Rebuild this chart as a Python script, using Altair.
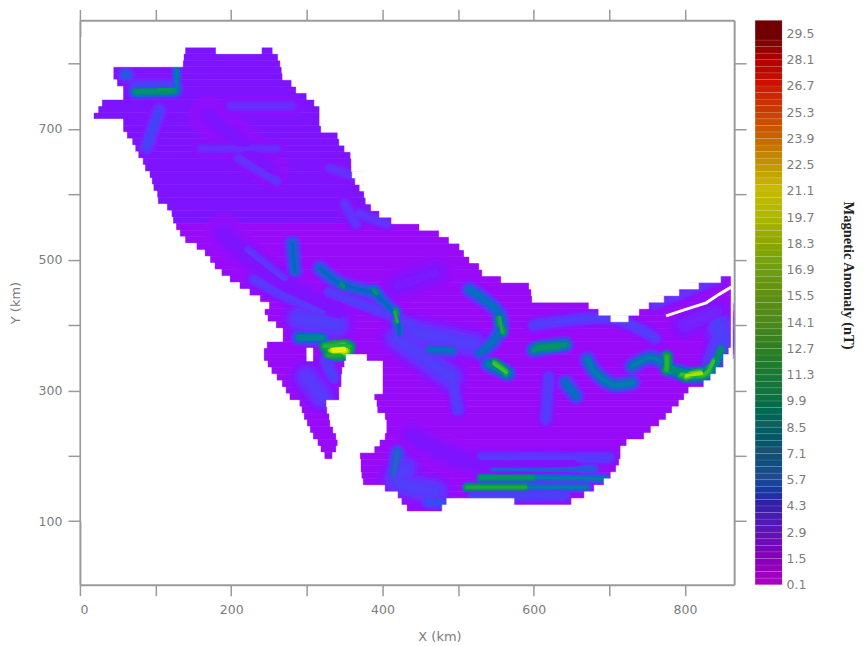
import altair as alt
import pandas as pd

# ---- map footprint: (y km, [(x start, x end), ...]) read row by row
footprint = [
 (820,[(139,180),(240,255)]),(810,[(137,262)]),(800,[(136,265)]),(790,[(44,267)]),(780,[(44,268)]),
 (770,[(49,280)]),(760,[(57,286)]),(750,[(57,300)]),(740,[(29,310)]),(730,[(24,317)]),(720,[(18,317)]),
 (710,[(57,317)]),(700,[(57,319)]),(690,[(62,341)]),(680,[(69,343)]),(670,[(73,350)]),(660,[(77,358)]),
 (650,[(83,359)]),(640,[(86,359)]),(630,[(92,360)]),(620,[(95,364)]),(610,[(97,370)]),(600,[(102,376)]),
 (590,[(103,378)]),(580,[(115,385)]),(570,[(121,396)]),(560,[(123,412)]),(550,[(127,449)]),(540,[(132,475)]),
 (530,[(139,488)]),(520,[(154,502)]),(510,[(165,508)]),(500,[(172,515)]),(490,[(178,528)]),(480,[(187,532)]),
 (470,[(198,557),(847,861)]),(460,[(211,594),(818,861)]),(450,[(224,597),(792,861)]),(440,[(238,598),(772,861)]),
 (430,[(250,673),(752,861)]),(420,[(244,686),(739,861)]),(410,[(248,702),(725,861)]),(400,[(259,861)]),
 (390,[(268,861)]),(380,[(268,861)]),(370,[(247,861)]),(360,[(243,300),(308,858)]),
 (350,[(243,300),(308,352),(379,851)]),(340,[(248,350),(400,851)]),(330,[(253,347),(400,841)]),
 (320,[(260,346),(400,834)]),(310,[(267,346),(400,825)]),(300,[(272,343),(400,805)]),(290,[(277,343),(389,799)]),
 (280,[(290,326),(392,792)]),(270,[(293,327),(393,783)]),(260,[(296,330),(403,775)]),(250,[(300,331),(405,766)]),
 (240,[(304,335),(405,755)]),(230,[(308,339),(403,746)]),(220,[(314,341),(396,723)]),(210,[(318,339),(389,715)]),
 (200,[(323,334),(370,715)]),(190,[(371,713)]),(180,[(371,709)]),(170,[(372,702)]),(160,[(374,693)]),
 (150,[(403,680)]),(140,[(420,667)]),(130,[(425,485),(574,650)]),(120,[(432,479)]),
]
base_level = {"north": 1.5, "south": 0.7}

# ---- white sliver in the eastern arm
gash_x = [775, 801, 828, 845, 861]
gash_y = [414, 424, 434, 447, 458]

# ---- anomaly ridges: (value, [(x km, y km), ...]) grouped by how wide they look
patches = [
 (1.5,[(190,540),(260,470),(340,420)]),(1.5,[(440,230),(520,190),(650,190)]),
 (1.8,[(800,400),(840,420)]),(1.5,[(170,720),(250,640)]),(1.6,[(420,460),(470,480)]),
 (2.8,[(290,410),(340,400)]),(2.8,[(430,180),(420,160),(470,145)]),(2.8,[(440,390),(520,370)]),
 (3.0,[(845,400),(850,375)]),(2.8,[(420,380),(490,320)]),(2.6,[(300,320),(320,290)]),
]
broad = [
 (3.2,[(105,728),(88,672)]),(2.6,[(230,470),(270,445),(320,420)]),(3.2,[(75,765),(125,765)]),
 (2.2,[(200,735),(280,735)]),(2.1,[(160,670),(260,670)]),(2.3,[(210,655),(260,620)]),
 (2.4,[(370,570),(405,555)]),(2.4,[(350,585),(365,555)]),(2.3,[(330,640),(370,625)]),(2.4,[(220,515),(270,470)]),
 (2.8,[(330,450),(400,420),(440,400)]),(2.8,[(600,400),(700,410),(760,380)]),
 (2.8,[(620,320),(616,256)]),(2.8,[(490,330),(500,270)]),
 (3.0,[(325,345),(335,320)]),(2.7,[(530,197),(700,197)]),(3.0,[(520,138),(640,140)]),
 (2.8,[(830,345),(850,400)]),(2.2,[(760,430),(845,470)]),
]
mid = [
 (3.6,[(460,130),(480,128)]),(5.0,[(420,205),(415,170)]),(5.2,[(281,525),(284,482)]),
 (5.2,[(317,487),(347,462),(389,450)]),(5.2,[(389,450),(418,413),(422,385)]),(4.5,[(60,783),(62,782)]),
 (5.5,[(515,454),(550,424),(557,398),(545,373),(528,358)]),(5.5,[(462,362),(492,362)]),
 (5.5,[(642,312),(656,291)]),(6.0,[(671,347),(682,327),(704,309),(730,312)]),(6.0,[(730,337),(752,350),(770,343)]),
 (6.5,[(290,381),(320,381)]),(8.0,[(75,758),(125,760)]),(7.0,[(600,362),(620,367),(642,370)]),
 (7.5,[(781,332),(815,323),(836,337),(848,365)]),(6.5,[(540,340),(566,326)]),
]
thin = [
 (4.5,[(545,180),(680,180)]),(6.0,[(600,167),(695,165)]),(6.0,[(590,152),(670,152)]),(6.0,[(128,790),(128,762)]),
 (9.0,[(530,167),(600,167)]),(11.0,[(512,152),(590,152)]),
]
core = [
 (9.5,[(105,760),(118,760)]),(8.0,[(345,463),(349,460)]),(8.0,[(388,452),(392,448)]),
 (11.0,[(328,354),(344,354)]),(12.0,[(324,368),(356,367)]),
 (11.0,[(416,420),(420,405)]),(11.0,[(555,412),(558,390)]),(9.0,[(605,365),(632,368)]),
 (12.0,[(776,352),(776,332)]),(13.0,[(795,325),(825,325),(838,345)]),(14.0,[(548,340),(564,327)]),
 (17.0,[(802,323),(822,326)]),
]
hot = [(19.5,[(336,362),(349,363)])]

# ---- colour bar
bar_labels = [0.1,1.5,2.9,4.3,5.7,7.1,8.5,9.9,11.3,12.7,14.1,15.5,16.9,18.3,19.7,21.1,22.5,23.9,25.3,26.7,28.1,29.5]
bar_colors = ["#a800c0","#8000b8","#5a14b8","#3020a8","#204a90","#1a5070","#10605a","#107040","#1a7a30","#308020",
              "#50881a","#609010","#70a010","#90a800","#b0b800","#c8b800","#c09000","#c86000","#c83800","#cc1000","#aa0000","#600000"]
map_stops = [0.1, 1.5, 3.0, 5.0, 7.0, 10.0, 14.0, 17.0, 20.0, 30.0]
map_colors = ["#a805f5", "#7e14ff", "#4a40fa", "#2a60c8", "#108a78", "#12a040", "#40c820", "#b0e000", "#f4f400", "#800000"]
x_ticks = [0, 100, 200, 300, 400, 500, 600, 700, 800]
y_ticks = [100, 200, 300, 400, 500, 600, 700, 800]

GREY, TXT, FONT = "#9a9a9a", "#7c7c7c", "DejaVu Sans"
xs = alt.Scale(domain=[0, 865], nice=False, zero=False)
ys = alt.Scale(domain=[3, 866], nice=False, zero=False)
cs = alt.Scale(domain=map_stops, range=map_colors)

cells = pd.DataFrame([
    dict(x0=a, x1=b, y0=y - 5, y1=y + 5, v=base_level["north"] if y >= 560 else base_level["south"])
    for y, spans in footprint for a, b in spans
])

# everything outside the footprint is masked white, so the ridges stop at the coast
outside = []
for y, spans in footprint:
    edge = 2
    for a, b in spans:
        outside.append(dict(x0=edge, x1=a, y0=y - 5, y1=y + 5))
        edge = b
    outside.append(dict(x0=edge, x1=863, y0=y - 5, y1=y + 5))
outside.append(dict(x0=2, x1=863, y0=100, y1=115))
outside.append(dict(x0=2, x1=863, y0=825, y1=840))

def axis_common(**kw):
    return alt.Axis(domainColor=GREY, domainWidth=2, tickColor=GREY, tickWidth=1.5,
                    labelColor=TXT, labelFont=FONT, labelFontSize=12.5, titleColor=TXT, titleFont=FONT,
                    titleFontSize=13, titleFontWeight="normal", grid=False, **kw)

base = alt.Chart(cells).mark_rect(strokeWidth=0.6).encode(
    x=alt.X("x0:Q", scale=xs, axis=axis_common(orient="bottom", values=x_ticks, title="X (km)", titlePadding=14, titleX=360,
            tickSize=11, labelExpr="datum.value % 200 == 0 ? datum.label : ''", labelPadding=8)),
    x2="x1:Q",
    y=alt.Y("y0:Q", scale=ys, axis=axis_common(orient="left", values=y_ticks, title="Y (km)", titlePadding=16,
            tickSize=12, labelExpr="(datum.value - 100) % 200 == 0 ? datum.label : ''", labelPadding=6)),
    y2="y1:Q",
    color=alt.Color("v:Q", scale=cs, legend=None),
    stroke=alt.Stroke("v:Q", scale=cs, legend=None),
)

def ridge_layer(paths, width, frac, opacity):
    rows = [dict(pid=i, k=k, x=p[0], y=p[1], v=v * frac)
            for i, (v, pts) in enumerate(sorted(paths, key=lambda r: r[0])) for k, p in enumerate(pts)]
    return alt.Chart(pd.DataFrame(rows)).mark_line(strokeWidth=width, strokeCap="round", strokeJoin="round", clip=True,
                                                   interpolate="cardinal", opacity=opacity).encode(
        x=alt.X("x:Q", scale=xs, axis=None), y=alt.Y("y:Q", scale=ys, axis=None),
        color=alt.Color("v:Q", scale=cs, legend=None), detail="pid:N", order="k:Q")

groups = [(patches, 12), (broad, 6), (mid, 5.5), (thin, 3.5), (core, 4.5), (hot, 7)]
tiers = [(0.4, 3.4, 0.45), (0.55, 2.8, 0.55), (0.7, 2.2, 0.7), (0.82, 1.7, 0.85), (0.92, 1.2, 0.95), (1.0, 0.7, 1.0)]
glow = [ridge_layer(paths, w * m, f, o) for f, m, o in tiers for paths, w in groups]

mask = alt.Chart(pd.DataFrame(outside)).mark_rect(color="white", stroke="white", strokeWidth=0.5).encode(
    x=alt.X("x0:Q", scale=xs, axis=None), x2="x1:Q", y=alt.Y("y0:Q", scale=ys, axis=None), y2="y1:Q")

gash = alt.Chart(pd.DataFrame({"x": gash_x, "y": gash_y})).mark_line(color="white", strokeWidth=3).encode(
    x=alt.X("x:Q", scale=xs, axis=axis_common(orient="top", values=x_ticks, labels=False, title=None, tickSize=11)),
    y=alt.Y("y:Q", scale=ys, axis=axis_common(orient="right", values=y_ticks, labels=False, title=None, tickSize=12)),
)

the_map = alt.layer(base, *glow, mask, gash).resolve_axis(x="independent", y="independent").properties(width=655, height=565)

stops = []
for a, b in zip(bar_labels[:-1], bar_labels[1:]):
    for i in range(4):
        stops.append(dict(v0=a + (b - a) * i / 4, v1=a + (b - a) * (i + 1) / 4))
stops[-1]["v1"] = 30.2
bar = alt.Chart(pd.DataFrame(stops)).mark_rect(strokeWidth=0.3, strokeOpacity=0.3).encode(
    x=alt.value(0), x2=alt.value(27),
    y=alt.Y("v0:Q", scale=alt.Scale(domain=[0.1, 30.2], nice=False, zero=False),
            axis=alt.Axis(orient="right", values=bar_labels, format=".1f", domain=False, ticks=False, grid=False,
                          labelColor=TXT, labelFont=FONT, labelFontSize=12.5, labelPadding=4,
                          title="Magnetic Anomaly (nT)", titleFont="Liberation Serif", titleFontSize=14.5,
                          titleFontWeight="bold", titleColor="#222222", titleAngle=90, titleY=255, titlePadding=27)),
    y2="v1:Q",
    color=alt.Color("v0:Q", scale=alt.Scale(domain=bar_labels, range=bar_colors), legend=None),
    stroke=alt.value("#ffffff"),
).properties(width=27, height=565)

chart = alt.hconcat(the_map, bar, spacing=7).resolve_scale(color="independent", stroke="independent").properties(
    padding={"left": 1, "top": 0, "right": 0, "bottom": 0}
).configure_view(strokeWidth=0)

chart.save("out.html", embed_options={"renderer": "svg", "actions": False})
